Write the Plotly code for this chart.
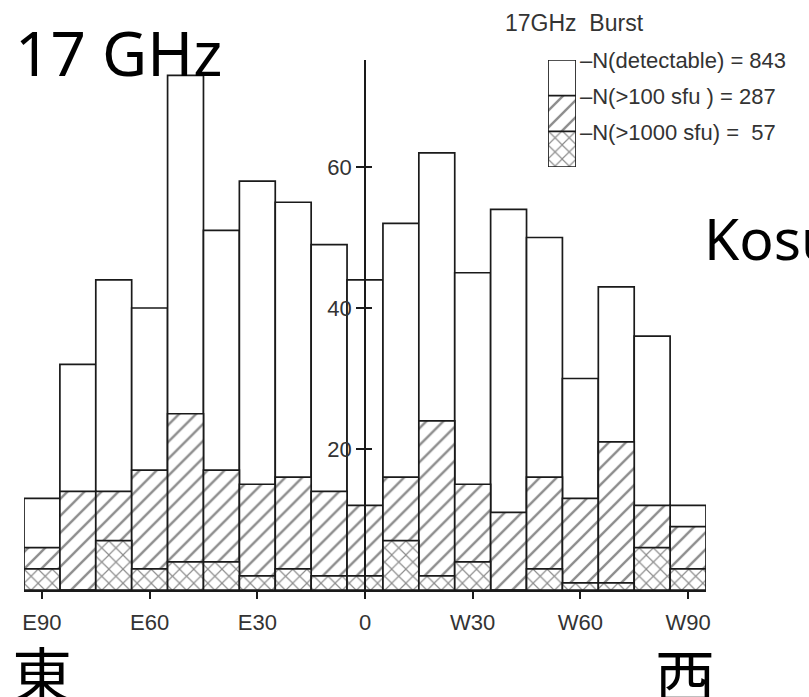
import plotly.graph_objects as go

# ---- data (heliographic longitude bins, E negative / W positive) ----
longitudes = [-90, -80, -70, -60, -50, -40, -30, -20, -10, 0,
              10, 20, 30, 40, 50, 60, 70, 80, 90]
n_detectable = [13, 32, 44, 40, 73, 51, 58, 55, 49, 44,
                52, 62, 45, 54, 50, 30, 43, 36, 12]
n_gt100 = [6, 14, 14, 17, 25, 17, 15, 16, 14, 12,
           16, 24, 15, 11, 16, 13, 21, 12, 9]
n_gt1000 = [3, 0, 7, 3, 4, 4, 2, 3, 2, 2,
            7, 2, 4, 0, 3, 1, 1, 6, 3]
tick_vals = [-90, -60, -30, 0, 30, 60, 90]
tick_text = ["E90", "E60", "E30", "0", "W30", "W60", "W90"]
y_ticks = [20, 40, 60]
legend_labels = ["–N(detectable) = 843", "–N(>100 sfu ) = 287", "–N(>1000 sfu) =  57"]
legend_stack = [3, 2, 1]  # inset key: top/middle/bottom boxes

# ---- geometry helpers (pixel -> paper) ----
W, H = 809, 697
L, R, T, B = 24, 103, 60, 107
PW, PH = W - L - R, H - T - B


def px(x):
    return (x - L) / PW


def py(y):
    return (H - B - y) / PH


INK = "#1a1a1a"
HATCH = "#1a1a1a"
TXT = "#333333"

PAT_NONE = dict(shape="", fgcolor=HATCH, bgcolor="white")
PAT_DIAG = dict(shape="/", size=12, solidity=0.2, fgcolor=HATCH, bgcolor="white")
PAT_CROSS = dict(shape="x", size=10, solidity=0.22, fgcolor=HATCH, bgcolor="white")

fig = go.Figure()

for vals, pat in [(n_detectable, PAT_NONE), (n_gt100, PAT_DIAG), (n_gt1000, PAT_CROSS)]:
    fig.add_trace(go.Bar(
        x=longitudes, y=vals, width=10,
        marker=dict(color="white", pattern=pat, line=dict(color=INK, width=1.7)),
        showlegend=False, hoverinfo="skip",
    ))

# helper trace for the crossing part of y ticks
fig.add_trace(go.Scatter(x=[None], y=[None], xaxis="x", yaxis="y2", showlegend=False))

# inset key
for v, pat in zip(legend_stack, [PAT_NONE, PAT_DIAG, PAT_CROSS]):
    fig.add_trace(go.Bar(
        x=[0], y=[v], width=1, xaxis="x3", yaxis="y3",
        marker=dict(color="white", pattern=pat, line=dict(color=INK, width=1.7)),
        showlegend=False, hoverinfo="skip",
    ))

tick_font = dict(family="Liberation Sans", size=22, color=TXT)

fig.update_layout(
    width=W, height=H,
    margin=dict(l=L, r=R, t=T, b=B),
    paper_bgcolor="white", plot_bgcolor="white",
    barmode="overlay",
    xaxis=dict(
        range=[-95, 95], tickvals=tick_vals, ticktext=tick_text,
        showline=True, linecolor=INK, linewidth=1.7,
        ticks="outside", ticklen=7, tickwidth=1.5, tickcolor=INK,
        showgrid=False, zeroline=False, tickfont=tick_font,
        ticklabelstandoff=5,
    ),
    yaxis=dict(
        range=[0, PH / 7.05], tickvals=y_ticks, anchor="free", position=0.5,
        showline=True, linecolor=INK, linewidth=1.7,
        ticks="outside", ticklen=8, tickwidth=1.5, tickcolor=INK,
        showgrid=False, zeroline=False, tickfont=tick_font,
    ),
    yaxis2=dict(
        range=[0, PH / 7.05], tickvals=y_ticks, overlaying="y", anchor="free", position=0.5,
        showline=False, ticks="inside", ticklen=6, tickwidth=1.5, tickcolor=INK,
        showticklabels=False, showgrid=False, zeroline=False,
    ),
    xaxis3=dict(domain=[px(548), px(576)], range=[-0.5, 0.5], anchor="y3", visible=False),
    yaxis3=dict(domain=[py(167), py(60)], range=[0, 3], anchor="x3", visible=False),
)

ann = []
# big labels
ann.append(dict(text="17 GHz", x=px(13), y=py(52), xanchor="left", yanchor="middle",
                font=dict(family="Noto Sans", size=62, color="black")))
ann.append(dict(text="Kosugi", x=px(702), y=py(238), xanchor="left", yanchor="middle",
                font=dict(family="Noto Sans", size=57, color="black")))
ann.append(dict(text="東", x=px(42), y=py(671), xanchor="center", yanchor="middle",
                font=dict(family="Noto Sans CJK JP", size=60, color="black")))
ann.append(dict(text="西", x=px(685), y=py(673), xanchor="center", yanchor="middle",
                font=dict(family="Noto Sans CJK JP", size=60, color="black")))
# key title and labels
ann.append(dict(text="17GHz  Burst", x=px(503), y=py(23), xanchor="left", yanchor="middle",
                font=dict(family="Liberation Sans", size=23, color=TXT)))
for lab, yy in zip(legend_labels, [60, 96, 132]):
    ann.append(dict(text=lab, x=px(578), y=py(yy), xanchor="left", yanchor="middle",
                    font=dict(family="Liberation Sans", size=22, color=TXT)))
for a in ann:
    a.update(xref="paper", yref="paper", showarrow=False)
fig.update_layout(annotations=ann)

fig.write_html("out.html")
